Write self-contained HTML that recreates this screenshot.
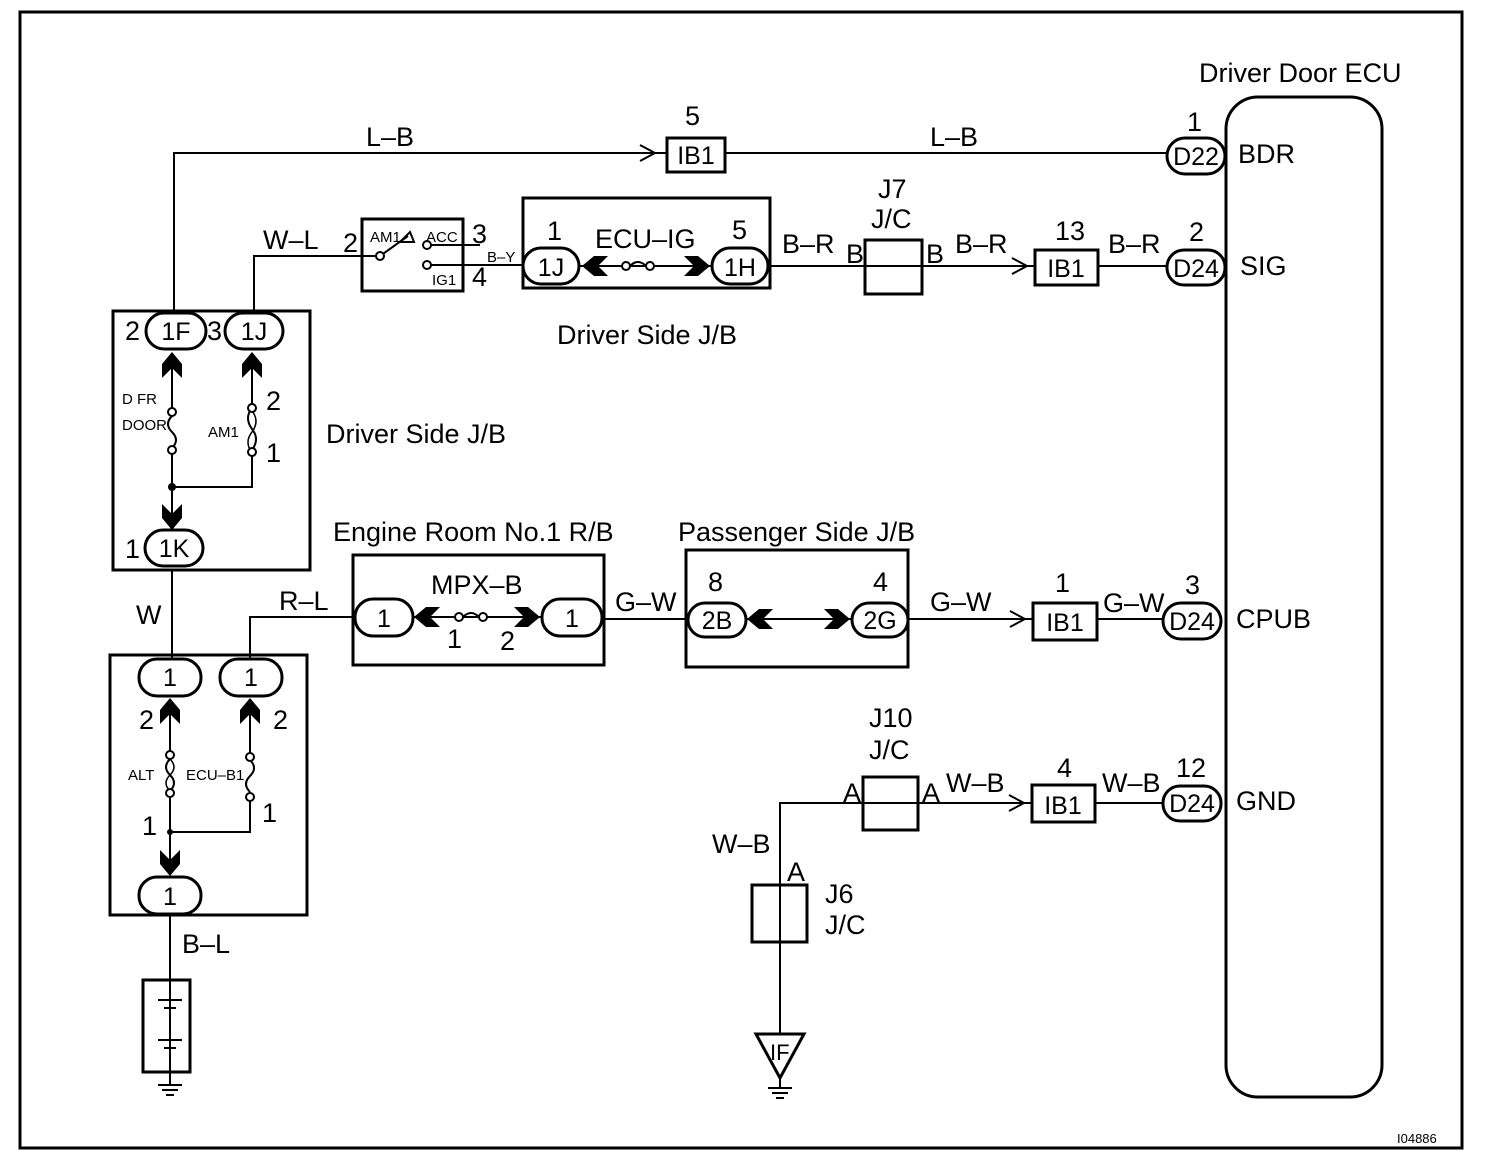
<!DOCTYPE html>
<html><head><meta charset="utf-8"><style>
html,body{margin:0;padding:0;background:#fff}
svg{display:block}
text{font-family:"Liberation Sans",Arial,sans-serif;fill:#000}
.c{text-anchor:middle}
</style></head><body>
<svg width="1504" height="1170" viewBox="0 0 1504 1170" xmlns="http://www.w3.org/2000/svg">
<defs>
<polygon id="cu" points="0,0 10,12 10,26 0,16 -10,26 -10,12"/>
<polygon id="cd" points="0,0 10,-12 10,-26 0,-16 -10,-26 -10,-12"/>
<polygon id="cl" points="0,0 12,-10 26,-10 16,0 26,10 12,10"/>
<polygon id="cr" points="0,0 -12,-10 -26,-10 -16,0 -26,10 -12,10"/>
</defs>
<g fill="none" stroke="#000">
<rect x="20" y="12" width="1442" height="1136" stroke-width="3"/>
<rect x="1226" y="97" width="156" height="1000" rx="32" stroke-width="3"/>
<g stroke-width="3">
<rect x="113" y="311" width="197" height="259"/>
<rect x="110" y="655" width="197" height="260"/>
<rect x="362" y="219" width="101" height="72"/>
<rect x="523" y="198" width="247" height="90"/>
<rect x="353" y="555" width="251" height="110"/>
<rect x="686" y="550" width="222" height="117"/>
<rect x="865" y="240" width="57" height="54"/>
<rect x="863" y="777" width="55" height="53"/>
<rect x="752" y="885" width="55" height="57"/>
<rect x="667" y="138" width="58" height="34"/>
<rect x="1035" y="250" width="63" height="35"/>
<rect x="1033" y="603" width="64" height="37"/>
<rect x="1032" y="785" width="63" height="37"/>
<rect x="143" y="980" width="47" height="92"/>
</g>
<g stroke-width="2">
<polyline points="174,313 174,153 667,153"/>
<line x1="725" y1="153" x2="1167" y2="153"/>
<polyline points="254,313 254,256 380,256"/>
<line x1="431" y1="245" x2="480" y2="245"/>
<line x1="431" y1="265" x2="523" y2="265"/>
<line x1="770" y1="266" x2="1035" y2="266"/>
<line x1="1098" y1="266" x2="1167" y2="266"/>
<line x1="172" y1="570" x2="172" y2="659"/>
<polyline points="250,659 250,617 355,617"/>
<line x1="604" y1="619" x2="688" y2="619"/>
<line x1="908" y1="619" x2="1033" y2="619"/>
<line x1="1097" y1="619" x2="1163" y2="619"/>
<polyline points="780,1035 780,803 1032,803"/>
<line x1="1095" y1="803" x2="1163" y2="803"/>
<line x1="170" y1="915" x2="170" y2="1085"/>
<line x1="172" y1="360" x2="172" y2="412"/>
<line x1="252" y1="360" x2="252" y2="404"/>
<line x1="172" y1="450" x2="172" y2="530"/>
<polyline points="252,452 252,487 172,487"/>
<line x1="170" y1="700" x2="170" y2="755"/>
<line x1="250" y1="700" x2="250" y2="757"/>
<line x1="170" y1="790" x2="170" y2="875"/>
<polyline points="250,797 250,832 170,832"/>
<line x1="580" y1="266" x2="715" y2="266"/>
<line x1="410" y1="617" x2="545" y2="617"/>
<line x1="745" y1="619" x2="855" y2="619"/>
<line x1="380" y1="256" x2="408" y2="236"/>
<polygon points="400,242 410,232 414,242"/>
<path d="M172,416 q-8,8 0,16 q8,8 0,16"/>
<path d="M252,408 q-8,10 0,21 q8,10 0,21"/>
<path d="M252,411 q8,10 0,21 q-8,10 0,21" stroke-width="1.5"/>
<path d="M170,759 q-8,8 0,16 q8,8 0,16"/>
<path d="M170,759 q8,8 0,16 q-8,8 0,16" stroke-width="1.5"/>
<path d="M250,760 q8,8 0,16 q-8,8 0,16"/>
<path d="M630,266 q8,-8 16,0"/>
<path d="M463,617 q8,-8 16,0"/>
<polyline points="640,145 655,153 640,161"/>
<polyline points="1012,258 1027,266 1012,274"/>
<polyline points="1010,611 1025,619 1010,627"/>
<polyline points="1009,795 1024,803 1009,811"/>
<line x1="158" y1="1000" x2="182" y2="1000"/>
<line x1="164" y1="1008" x2="176" y2="1008"/>
<line x1="170" y1="1020" x2="170" y2="1030" stroke-dasharray="5,4"/>
<line x1="158" y1="1040" x2="182" y2="1040"/>
<line x1="164" y1="1048" x2="176" y2="1048"/>
<line x1="158" y1="1085" x2="182" y2="1085"/>
<line x1="162" y1="1090" x2="178" y2="1090"/>
<line x1="166" y1="1095" x2="174" y2="1095"/>
<polygon points="756,1034 804,1034 780,1078" stroke-width="3"/>
<line x1="780" y1="1078" x2="780" y2="1088"/>
<line x1="768" y1="1088" x2="792" y2="1088"/>
<line x1="772" y1="1093" x2="788" y2="1093"/>
<line x1="776" y1="1098" x2="784" y2="1098"/>
</g>
<g stroke-width="3" fill="#fff">
<rect x="146" y="313" width="60" height="36" rx="18"/>
<rect x="225" y="313" width="58" height="36" rx="18"/>
<rect x="145" y="530" width="58" height="36" rx="18"/>
<rect x="139" y="659" width="62" height="37" rx="18"/>
<rect x="220" y="659" width="62" height="37" rx="18"/>
<rect x="139" y="877" width="62" height="37" rx="18"/>
<rect x="523" y="248" width="56" height="36" rx="18"/>
<rect x="712" y="248" width="56" height="36" rx="18"/>
<rect x="355" y="599" width="58" height="37" rx="18"/>
<rect x="542" y="599" width="60" height="37" rx="18"/>
<rect x="688" y="603" width="58" height="34" rx="17"/>
<rect x="852" y="603" width="56" height="34" rx="17"/>
<rect x="1167" y="138" width="58" height="36" rx="18"/>
<rect x="1167" y="250" width="58" height="35" rx="17"/>
<rect x="1163" y="603" width="58" height="36" rx="18"/>
<rect x="1163" y="786" width="58" height="35" rx="17"/>
</g>
<g stroke-width="2" fill="#fff">
<circle cx="380" cy="256" r="4"/><circle cx="427" cy="245" r="4"/><circle cx="427" cy="265" r="4"/>
<circle cx="172" cy="412" r="4"/><circle cx="172" cy="450" r="4"/>
<circle cx="252" cy="408" r="4"/><circle cx="252" cy="452" r="4"/>
<circle cx="170" cy="755" r="4"/><circle cx="170" cy="793" r="4"/>
<circle cx="250" cy="757" r="4"/><circle cx="250" cy="797" r="4"/>
<circle cx="626" cy="266" r="4"/><circle cx="650" cy="266" r="4"/>
<circle cx="459" cy="617" r="4"/><circle cx="483" cy="617" r="4"/>
</g>
</g>
<g fill="#000">
<circle cx="172" cy="487" r="4"/><circle cx="170" cy="832" r="3"/>
<use href="#cu" x="172" y="352"/><use href="#cu" x="252" y="352"/>
<use href="#cd" x="172" y="530"/>
<use href="#cu" x="170" y="698"/><use href="#cu" x="250" y="698"/>
<use href="#cd" x="170" y="876"/>
<use href="#cl" x="582" y="266"/><use href="#cr" x="710" y="266"/>
<use href="#cl" x="414" y="617"/><use href="#cr" x="540" y="617"/>
<use href="#cl" x="747" y="619"/><use href="#cr" x="850" y="619"/>
</g>
<g font-size="27">
<text x="1199" y="82">Driver Door ECU</text>
<text x="1238" y="163">BDR</text>
<text x="1240" y="275">SIG</text>
<text x="1236" y="628">CPUB</text>
<text x="1236" y="810">GND</text>
<text x="1187" y="131">1</text>
<text x="1189" y="241">2</text>
<text x="1185" y="594">3</text>
<text x="1176" y="777">12</text>
<text x="366" y="146">L–B</text>
<text x="930" y="146">L–B</text>
<text x="685" y="125">5</text>
<text x="263" y="249">W–L</text>
<text x="343" y="252">2</text>
<text x="472" y="243">3</text>
<text x="472" y="286">4</text>
<text x="547" y="240">1</text>
<text x="595" y="248">ECU–IG</text>
<text x="732" y="239">5</text>
<text x="557" y="344">Driver Side J/B</text>
<text x="782" y="253">B–R</text>
<text x="878" y="198">J7</text>
<text x="871" y="228">J/C</text>
<text x="846" y="263">B</text>
<text x="926" y="263">B</text>
<text x="955" y="253">B–R</text>
<text x="1055" y="240">13</text>
<text x="1108" y="253">B–R</text>
<text x="125" y="340">2</text>
<text x="207" y="340">3</text>
<text x="266" y="410">2</text>
<text x="266" y="462">1</text>
<text x="326" y="443">Driver Side J/B</text>
<text x="125" y="558">1</text>
<text x="136" y="624">W</text>
<text x="279" y="610">R–L</text>
<text x="139" y="729">2</text>
<text x="273" y="729">2</text>
<text x="142" y="835">1</text>
<text x="262" y="822">1</text>
<text x="182" y="953">B–L</text>
<text x="333" y="541">Engine Room No.1 R/B</text>
<text x="678" y="541">Passenger Side J/B</text>
<text x="431" y="594">MPX–B</text>
<text x="447" y="648">1</text>
<text x="500" y="650">2</text>
<text x="615" y="611">G–W</text>
<text x="708" y="591">8</text>
<text x="873" y="591">4</text>
<text x="930" y="611">G–W</text>
<text x="1055" y="592">1</text>
<text x="1103" y="612">G–W</text>
<text x="869" y="727">J10</text>
<text x="869" y="759">J/C</text>
<text x="843" y="802">A</text>
<text x="922" y="802">A</text>
<text x="946" y="792">W–B</text>
<text x="1057" y="777">4</text>
<text x="1102" y="792">W–B</text>
<text x="712" y="853">W–B</text>
<text x="787" y="881">A</text>
<text x="825" y="903">J6</text>
<text x="825" y="934">J/C</text>
</g>
<g font-size="25" class="c">
<text x="1196" y="165">D22</text>
<text x="1196" y="277">D24</text>
<text x="1192" y="630">D24</text>
<text x="1192" y="812">D24</text>
<text x="696" y="164">IB1</text>
<text x="1066" y="277">IB1</text>
<text x="1065" y="631">IB1</text>
<text x="1063" y="814">IB1</text>
<text x="551" y="276">1J</text>
<text x="740" y="276">1H</text>
<text x="176" y="340">1F</text>
<text x="254" y="340">1J</text>
<text x="174" y="557">1K</text>
<text x="170" y="686">1</text>
<text x="251" y="686">1</text>
<text x="170" y="905">1</text>
<text x="384" y="627">1</text>
<text x="572" y="627">1</text>
<text x="717" y="629">2B</text>
<text x="880" y="629">2G</text>
</g>
<g font-size="15">
<text x="370" y="242">AM1</text>
<text x="426" y="242">ACC</text>
<text x="432" y="285">IG1</text>
<text x="487" y="262">B–Y</text>
<text x="122" y="404">D FR</text>
<text x="122" y="430">DOOR</text>
<text x="208" y="437">AM1</text>
<text x="128" y="780">ALT</text>
<text x="186" y="780">ECU–B1</text>
<text x="1397" y="1143" font-size="13">I04886</text>
<text x="770" y="1060" font-size="22">IF</text>
</g>
</svg>
</body></html>
